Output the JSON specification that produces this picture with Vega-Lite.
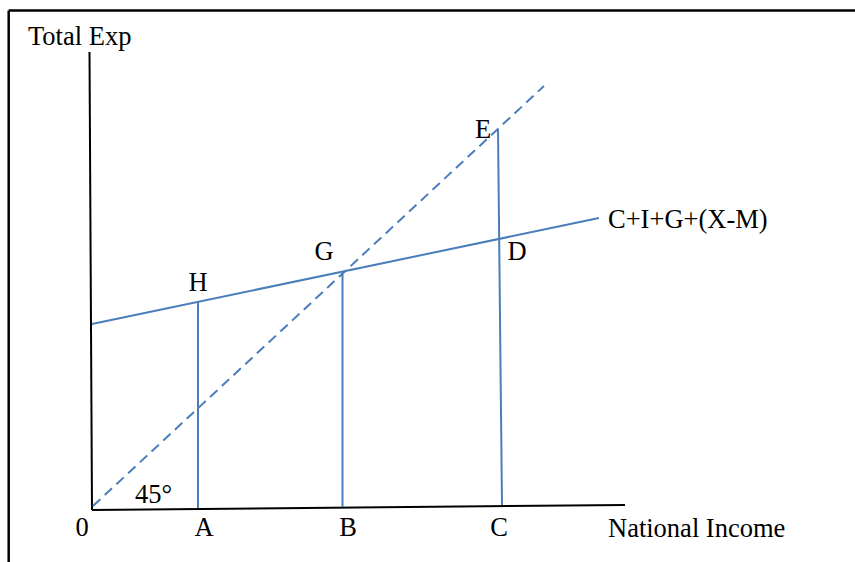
{
  "$schema": "https://vega.github.io/schema/vega-lite/v6.json",
  "width": 855,
  "height": 562,
  "padding": 0,
  "autosize": {"type": "none"},
  "background": "white",
  "config": {"view": {"stroke": null}},
  "datasets": {
    "frame": [
      {"x": -83.3, "y": 496.5, "x2": 763, "y2": 496.5},
      {"x": -83.3, "y": 496.5, "x2": -83.3, "y2": -55}
    ],
    "axes": [
      {"name": "Total Exp axis", "x": -2.5, "y": 455, "x2": 0, "y2": -3},
      {"name": "National Income axis", "x": 0, "y": -3, "x2": 533, "y2": 2}
    ],
    "schedule": [
      {"name": "C+I+G+(X-M)", "x": 0, "y": 183, "x2": 507, "y2": 289},
      {"name": "A-H", "x": 106, "y": 205, "x2": 106, "y2": -1},
      {"name": "B-G", "x": 250.5, "y": 234, "x2": 250.5, "y2": 0},
      {"name": "C-E", "x": 406, "y": 378, "x2": 410, "y2": 2}
    ],
    "line45": [
      {"name": "45 degree line", "x": 1, "y": 1, "x2": 452, "y2": 421}
    ],
    "pointLabels": [
      {"label": "0", "x": -10, "y": -29},
      {"label": "A", "x": 112, "y": -29},
      {"label": "B", "x": 256, "y": -29},
      {"label": "C", "x": 407, "y": -29},
      {"label": "H", "x": 106, "y": 216},
      {"label": "G", "x": 232, "y": 247},
      {"label": "E", "x": 391, "y": 369},
      {"label": "D", "x": 425, "y": 247}
    ],
    "titles": [
      {"label": "Total Exp", "x": -64, "y": 462},
      {"label": "National Income", "x": 516, "y": -30},
      {"label": "45°", "x": 43, "y": 4},
      {"label": "C+I+G+(X-M)", "x": 516, "y": 279}
    ]
  },
  "layer": [
    {
      "data": {"name": "frame"},
      "mark": {"type": "rule", "color": "#000000", "strokeWidth": 2.5},
      "encoding": {
        "x": {"field": "x", "type": "quantitative", "scale": {"domain": [-92, 763], "nice": false, "zero": false}, "axis": null},
        "y": {"field": "y", "type": "quantitative", "scale": {"domain": [-55, 507], "nice": false, "zero": false}, "axis": null},
        "x2": {"field": "x2"},
        "y2": {"field": "y2"}
      }
    },
    {
      "data": {"name": "axes"},
      "mark": {"type": "rule", "color": "#000000", "strokeWidth": 2},
      "encoding": {
        "x": {"field": "x", "type": "quantitative", "axis": null},
        "y": {"field": "y", "type": "quantitative", "axis": null},
        "x2": {"field": "x2"},
        "y2": {"field": "y2"}
      }
    },
    {
      "data": {"name": "schedule"},
      "mark": {"type": "rule", "color": "#4a7ebb", "strokeWidth": 2},
      "encoding": {
        "x": {"field": "x", "type": "quantitative", "axis": null},
        "y": {"field": "y", "type": "quantitative", "axis": null},
        "x2": {"field": "x2"},
        "y2": {"field": "y2"}
      }
    },
    {
      "data": {"name": "line45"},
      "mark": {"type": "rule", "color": "#4a7ebb", "strokeWidth": 2, "strokeDash": [10, 6]},
      "encoding": {
        "x": {"field": "x", "type": "quantitative", "axis": null},
        "y": {"field": "y", "type": "quantitative", "axis": null},
        "x2": {"field": "x2"},
        "y2": {"field": "y2"}
      }
    },
    {
      "data": {"name": "pointLabels"},
      "mark": {"type": "text", "font": "Liberation Serif", "fontSize": 26.5, "color": "#000000", "align": "center", "baseline": "alphabetic"},
      "encoding": {
        "x": {"field": "x", "type": "quantitative", "axis": null},
        "y": {"field": "y", "type": "quantitative", "axis": null},
        "text": {"field": "label"}
      }
    },
    {
      "data": {"name": "titles"},
      "mark": {"type": "text", "font": "Liberation Serif", "fontSize": 26.5, "color": "#000000", "align": "left", "baseline": "alphabetic"},
      "encoding": {
        "x": {"field": "x", "type": "quantitative", "axis": null},
        "y": {"field": "y", "type": "quantitative", "axis": null},
        "text": {"field": "label"}
      }
    }
  ]
}
